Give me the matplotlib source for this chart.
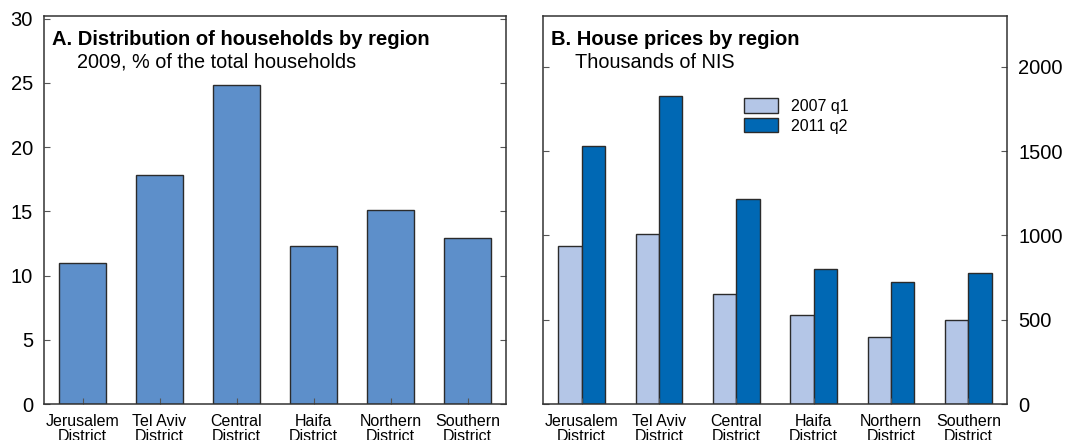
import numpy as np
import matplotlib
matplotlib.use("Agg")
import matplotlib.pyplot as plt

plt.rcParams["font.family"] = ["Liberation Sans", "DejaVu Sans"]

# ------------------------------------------------------------
# Data
# ------------------------------------------------------------
districts = ["Jerusalem\nDistrict", "Tel Aviv\nDistrict", "Central\nDistrict",
             "Haifa\nDistrict", "Northern\nDistrict", "Southern\nDistrict"]
households_pct = [11.0, 17.8, 24.8, 12.3, 15.1, 12.9]
prices_2007q1 = [940, 1008, 653, 528, 395, 498]
prices_2011q2 = [1532, 1830, 1214, 802, 725, 778]
series_labels = ["2007 q1", "2011 q2"]

C_MID = "#5d8fca"
C_LIGHT = "#b4c6e7"
C_DARK = "#0068b4"
EDGE = "#2b2b2b"


def style_axis(ax):
    for sp in ax.spines.values():
        sp.set_linewidth(1.1)
        sp.set_color("#333333")
    ax.tick_params(axis="both", direction="in", length=4, width=0.8, color="#555555")
    ax.tick_params(axis="y", labelsize=14.5, pad=8)
    ax.tick_params(axis="x", labelsize=11.5, pad=7)
    ax.set_xlim(-0.5, len(districts) - 0.5)
    ax.set_xticks(np.arange(len(districts)))
    ax.set_xticklabels(districts, linespacing=1.05)


fig = plt.figure(figsize=(10.77, 4.4), dpi=100)
axA = fig.add_axes([44 / 1077, 36 / 440, 462 / 1077, 388 / 440])
axB = fig.add_axes([543 / 1077, 36 / 440, 464 / 1077, 388 / 440])

# Panel A
x = np.arange(len(districts))
axA.bar(x, households_pct, width=0.6, color=C_MID, edgecolor=EDGE, linewidth=1.0)
style_axis(axA)
axA.set_ylim(0, 30.2)
axA.set_yticks(np.arange(0, 31, 5))
axA.tick_params(axis="y", right=True)
axA.text(0.018, 0.965, "A. Distribution of households by region", transform=axA.transAxes,
         fontsize=14.5, fontweight="bold", va="top", ha="left")
axA.text(0.072, 0.905, "2009, % of the total households", transform=axA.transAxes,
         fontsize=14.3, va="top", ha="left")

# Panel B
w = 0.3
axB.bar(x - w / 2, prices_2007q1, width=w, color=C_LIGHT, edgecolor=EDGE, linewidth=1.0,
        label=series_labels[0])
axB.bar(x + w / 2, prices_2011q2, width=w, color=C_DARK, edgecolor=EDGE, linewidth=1.0,
        label=series_labels[1])
style_axis(axB)
axB.set_ylim(0, 2302)
axB.set_yticks(np.arange(0, 2001, 500))
axB.yaxis.tick_right()
axB.tick_params(axis="y", left=True, right=True, labelleft=False, labelright=True)
axB.text(0.018, 0.965, "B. House prices by region", transform=axB.transAxes,
         fontsize=14.5, fontweight="bold", va="top", ha="left")
axB.text(0.068, 0.905, "Thousands of NIS", transform=axB.transAxes,
         fontsize=14.3, va="top", ha="left")
axB.legend(loc="upper left", bbox_to_anchor=(0.41, 0.818), frameon=False, fontsize=11.5,
           handlelength=2.1, handleheight=1.05, labelspacing=0.25, handletextpad=0.8,
           borderpad=0.2)

fig.savefig("out.png", dpi=100)
